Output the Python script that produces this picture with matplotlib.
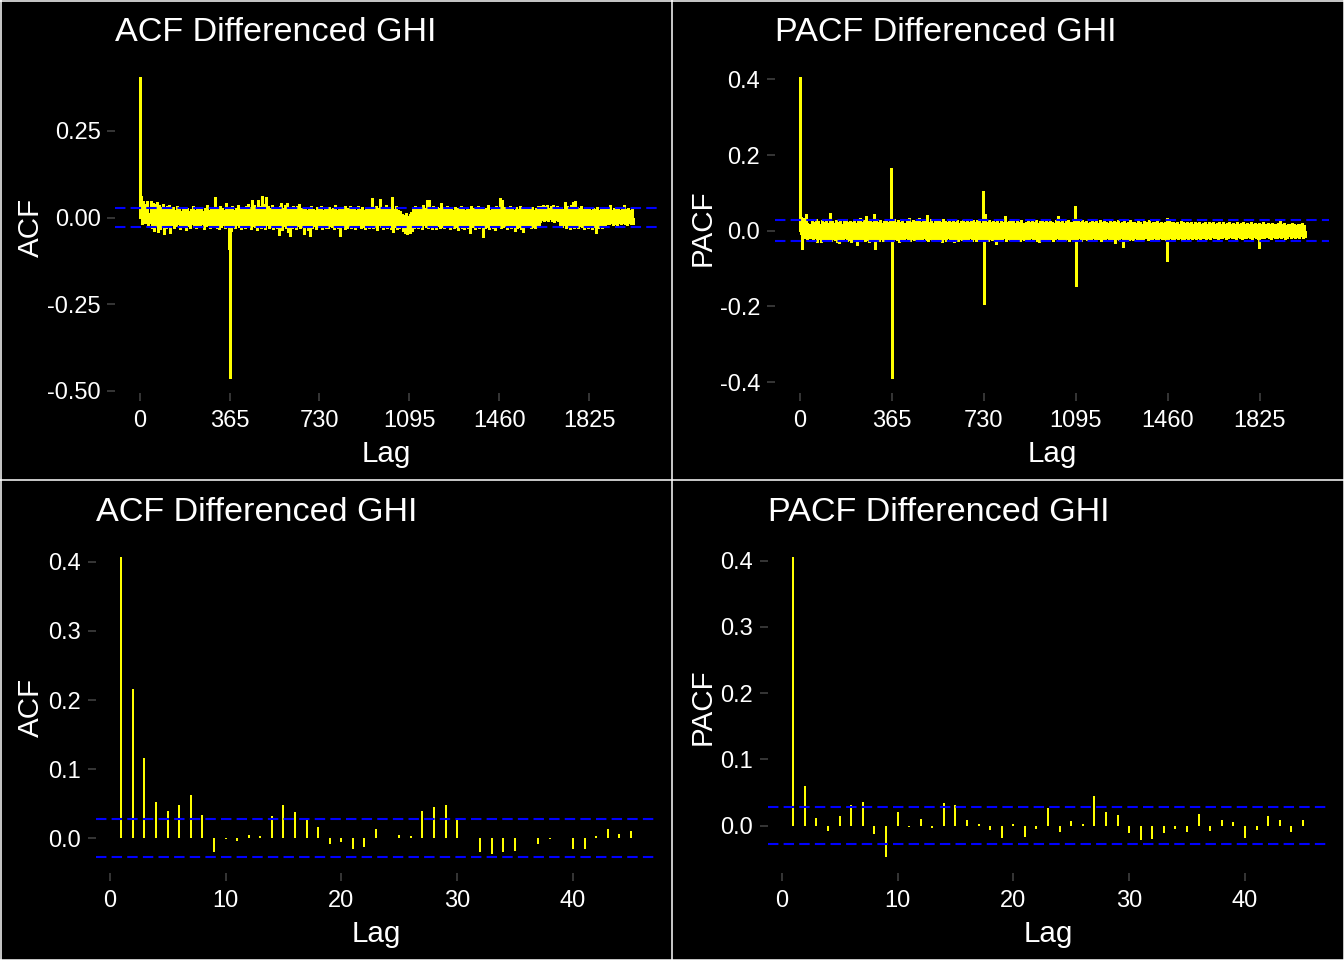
import numpy as np
import matplotlib
matplotlib.use('Agg')
import matplotlib.pyplot as plt
from matplotlib.lines import Line2D
from matplotlib.ticker import FormatStrFormatter

plt.rcParams['font.family'] = ['Liberation Sans', 'DejaVu Sans']
plt.rcParams['axes.unicode_minus'] = False

# ---- data ----
# lags 1..45 (bottom panels, also the start of the top panels)
short_lags = np.arange(1, 46)
acf_short = [0.407, 0.216, 0.116, 0.053, 0.039, 0.049, 0.063, 0.034, -0.019, -0.001,
             -0.004, 0.005, 0.004, 0.033, 0.049, 0.038, 0.027, 0.016, -0.008, -0.005,
             -0.015, -0.012, 0.014, 0.001, 0.005, 0.004, 0.039, 0.046, 0.048, 0.029,
             0.001, -0.019, -0.023, -0.019, -0.018, 0.000, -0.008, -0.001, 0.001, -0.015,
             -0.015, 0.003, 0.014, 0.006, 0.010]
pacf_short = [0.406, 0.060, 0.012, -0.008, 0.015, 0.031, 0.036, -0.013, -0.048, 0.021,
              -0.002, 0.010, -0.003, 0.034, 0.031, 0.008, 0.003, -0.007, -0.018, 0.003,
              -0.017, -0.005, 0.027, -0.010, 0.007, 0.003, 0.045, 0.020, 0.016, -0.011,
              -0.022, -0.020, -0.011, -0.005, -0.009, 0.018, -0.008, 0.009, 0.006, -0.018,
              -0.006, 0.014, 0.009, -0.010, 0.009]

# long range (top panels), estimated every 8 lags:
# upper value at the lag, lower value 4 lags later (thousandths)
max_lag = 2000
long_lags = np.arange(48, 2001, 8)
acf_hi_milli = """
48 42 38 45 35 30 40 28 33 36  25 30 22 34 27 19 31 24 28 20
26 33 21 29 24 31 18 27 35 22  28 25 60 30 24 33 27 21 42 30
26 34 23 29 36 25 31 28 33 38  30 52 35 29 50 33 62 40 60 34
29 36 27 31 25 33 42 28 35 42  30 26 34 29 32 40 27 24 31 22
28 33 25 21 30 27 34 23 29 26  31 24 28 35 22 27 30 25 33 20
27 32 24 29 21 34 26 30 23 28  31 25 55 29 33 27 53 30 24 36
28 31 58 26 33 22 18 10 6 12   4 9 15 27 32 24 30 26 35 29
52 50 28 33 25 31 27 42 30 24  33 26 29 22 31 27 24 34 28 21
30 25 32 27 23 29 33 26 31 24  28 35 22 30 26 33 29 55 50 31
27 24 32 28 21 30 26 33 25 29  31 27 24 30 22 28 33 34 30 36
32 35 29 33 37 31 34 27 30 25  45 32 28 36 45 48 30 27 33 24
29 26 31 23 28 25 30 22 27 31  24 28 26 35 22 27 25 29 23 26
37 24 28 21 26
"""
acf_lo_milli = """
-30 -38 -25 -42 -33 -28 -47 -31 -26 -46  -22 -30 -25 -19 -33 -27 -21 -35 -24 -29
-18 -26 -31 -23 -28 -20 -34 -25 -22 -30  -27 -24 -19 -29 -33 -26 -22 -30 -28 -35
-40 -26 -31 -22 -28 -34 -24 -29 -21 -27  -32 -25 -28 -36 -23 -30 -26 -33 -22 -29
-27 -34 -24 -31 -49 -28 -35 -25 -30 -42  -53 -29 -26 -33 -24 -31 -28 -48 -27 -35
-52 -30 -25 -32 -27 -23 -34 -26 -29 -31  -24 -28 -33 -22 -30 -53 -27 -25 -32 -29
-23 -31 -26 -34 -28 -22 -30 -27 -33 -25  -29 -24 -31 -27 -35 -22 -28 -33 -26 -30
-25 -32 -42 -28 -34 -30 -27 -40 -45 -47  -43 -46 -38 -29 -24 -31 -27 -33 -22 -28
-30 -25 -32 -27 -34 -23 -29 -26 -31 -24  -28 -33 -22 -30 -27 -35 -25 -29 -32 -26
-30 -44 -27 -24 -33 -28 -31 -25 -57 -29  -26 -32 -24 -30 -36 -27 -22 -31 -28 -25
-33 -26 -29 -24 -40 -30 -27 -32 -41 -25  -28 -23 -30 -26 -31 -22 -27 -12 -8 -10
-6 -11 -5 -9 -14 -7 -10 -25 -28 -22      -30 -26 -33 -24 -29 -27 -31 -23 -28 -32
-26 -30 -24 -33 -27 -44 -29 -25 -31 -23  -22 -18 -20 -16 -21 -19 -23 -17 -20 -15
-19 -22 -17 -20 -18
"""
pacf_hi_milli = """
28 22 30 25 19 27 24 31 21 47  26 20 29 23 27 18 25 30 22 26
24 29 21 27 33 23 28 40 25 30  22 45 27 24 29 20 26 31 23 28
25 30 22 27 24 32 21 26 34 23  29 25 31 33 22 28 26 42 24 30
21 27 25 29 23 31 26 22 28 24  30 23 27 21 26 29 24 28 22 25
27 23 29 25 21 26 45 24 28 22  26 23 29 21 27 24 38 22 26 25
28 21 25 23 27 20 24 29 22 26  24 28 21 25 30 23 27 22 26 24
21 27 40 23 26 20 25 28 22 24  27 21 25 23 29 22 26 20 24 27
23 25 21 28 22 26 24 20 27 23  25 22 28 21 24 26 20 23 27 22
24 21 26 23 19 25 22 27 20 24  22 26 21 24 20 23 34 25 22 24
21 23 19 25 22 20 24 21 23 19  22 20 24 18 21 23 19 22 20 24
18 21 23 19 22 17 20 22 18 21  19 22 17 20 23 18 21 19 22 17
20 18 21 19 22 17 20 18 21 19  17 20 31 18 21 16 19 17 20 18
16 19 17 20 15
"""
pacf_lo_milli = """
-26 -20 -29 -23 -31 -25 -22 -28 -24 -27  -21 -25 -30 -33 -23 -27 -20 -26 -24 -29
-22 -25 -37 -23 -28 -21 -26 -24 -29 -22  -25 -47 -23 -27 -21 -26 -24 -28 -22 -25
-27 -21 -25 -29 -23 -26 -20 -24 -28 -22  -25 -21 -27 -23 -26 -20 -24 -28 -22 -25
-23 -27 -21 -25 -29 -22 -26 -20 -24 -27  -31 -23 -26 -21 -25 -28 -22 -24 -20 -26
-23 -27 -21 -25 -22 -26 -24 -28 -21 -25  -23 -34 -22 -26 -24 -20 -27 -23 -25 -21
-26 -22 -24 -28 -21 -25 -23 -27 -20 -24  -22 -26 -31 -23 -25 -21 -27 -24 -22 -26
-23 -20 -25 -22 -27 -24 -21 -26 -23 -25  -22 -24 -20 -26 -23 -21 -25 -22 -24 -20
-25 -23 -21 -26 -22 -24 -20 -25 -23 -21  -33 -22 -24 -20 -42 -23 -21 -25 -22 -24
-20 -23 -21 -25 -22 -19 -24 -21 -23 -20  -22 -24 -20 -23 -21 -25 -22 -19 -23 -21
-20 -22 -18 -24 -21 -19 -23 -20 -22 -18  -21 -19 -23 -20 -18 -22 -19 -21 -17 -20
-19 -22 -18 -20 -17 -21 -19 -16 -20 -18  -21 -17 -19 -22 -18 -20 -16 -19 -21 -17
-19 -22 -19 -18 -20 -17 -19 -21 -16 -18  -20 -17 -19 -16 -21 -18 -15 -19 -17 -20
-16 -18 -15 -19 -17
"""
# isolated seasonal spikes
acf_spike_lags = [363, 364, 365, 366]
acf_spike_vals = [-0.045, -0.090, -0.463, -0.085]
pacf_spike_lags = [364, 365, 366, 729, 730, 731, 1094, 1095, 1457, 1822]
pacf_spike_vals = [0.167, -0.389, -0.139, 0.106, -0.193, -0.045, 0.064, -0.146, -0.081, -0.046]

ci = 0.0276  # 1.96 / sqrt(n)


def parse(s):
    return np.array(s.split(), dtype=float) / 1000.0


def series(short, hi, lo, sp_lags, sp_vals):
    hi, lo = parse(hi), parse(lo)
    n = min(len(hi), len(lo), len(long_lags))
    lags = np.concatenate([short_lags, long_lags[:n], long_lags[:n] + 4, sp_lags])
    vals = np.concatenate([short, hi[:n], lo[:n], sp_vals])
    return lags, vals


W, H = 1344, 960
fig = plt.figure(figsize=(W / 100, H / 100), dpi=100, facecolor='black')


def panel(box):
    l, t, r, b = box
    ax = fig.add_axes([l / W, 1 - b / H, (r - l) / W, (b - t) / H])
    ax.set_facecolor('black')
    for s in ax.spines.values():
        s.set_visible(False)
    return ax


def draw(ax, lags, vals, x_hi, title, ylab, box, ox, oy, yticks, yfmt, xticks, bar_lw, aa):
    l, t, r, b = box
    ax.vlines(lags, 0, vals, color='#FFFF00', lw=bar_lw, antialiased=aa)
    ax.axhline(ci, color='#0000FF', lw=1.5, ls=(0, (5, 2.5)))
    ax.axhline(-ci, color='#0000FF', lw=1.5, ls=(0, (5, 2.5)))
    lo = min(np.min(vals), -ci)
    hi = max(np.max(vals), ci)
    pad = 0.05 * (hi - lo)
    ax.set_ylim(lo - pad, hi + pad)
    xpad = 0.05 * (x_hi - 1)
    ax.set_xlim(1 - xpad, x_hi + xpad)
    ax.set_yticks(yticks)
    ax.yaxis.set_major_formatter(FormatStrFormatter(yfmt))
    ax.set_xticks(xticks)
    ax.tick_params(colors='#444444', labelcolor='white', labelsize=17, length=5.8, width=1.1)
    ax.tick_params(axis='x', pad=6.5)
    ax.tick_params(axis='y', pad=4.6)
    ax.set_title(title, loc='left', pad=15, fontsize=24.6, color='white')
    ax.set_xlabel('Lag', fontsize=21.3, color='white')
    ax.set_ylabel(ylab, fontsize=21.3, color='white')
    ax.xaxis.set_label_coords(0.5, (b - (oy + 440.0)) / (b - t))
    ax.yaxis.set_label_coords((ox + 44.8 - l) / (r - l), 0.5)


boxes = {
    'tl': (115.3, 61.5, 656.7, 393.0),
    'tr': (774.7, 62.0, 1329.0, 393.0),
    'bl': (95.8, 542.0, 656.3, 872.5),
    'br': (767.8, 541.7, 1328.3, 872.5),
}
year_ticks = [0, 365, 730, 1095, 1460, 1825]

lags, vals = series(acf_short, acf_hi_milli, acf_lo_milli, acf_spike_lags, acf_spike_vals)
ax = panel(boxes['tl'])
draw(ax, lags, vals, max_lag, 'ACF Differenced GHI', 'ACF', boxes['tl'], 0, 0,
     [-0.5, -0.25, 0.0, 0.25], '%.2f', year_ticks, 1.0, False)

lags, vals = series(pacf_short, pacf_hi_milli, pacf_lo_milli, pacf_spike_lags, pacf_spike_vals)
ax = panel(boxes['tr'])
draw(ax, lags, vals, max_lag, 'PACF Differenced GHI', 'PACF', boxes['tr'], 672, 0,
     [-0.4, -0.2, 0.0, 0.2, 0.4], '%.1f', year_ticks, 1.0, False)

ax = panel(boxes['bl'])
draw(ax, short_lags, np.array(acf_short), 45, 'ACF Differenced GHI', 'ACF', boxes['bl'], 0, 480,
     [0.0, 0.1, 0.2, 0.3, 0.4], '%.1f', [0, 10, 20, 30, 40], 1.44, True)

ax = panel(boxes['br'])
draw(ax, short_lags, np.array(pacf_short), 45, 'PACF Differenced GHI', 'PACF', boxes['br'], 672, 480,
     [0.0, 0.1, 0.2, 0.3, 0.4], '%.1f', [0, 10, 20, 30, 40], 1.44, True)

# white frames around each plot
for x in [0.5 / W, 0.5, 1 - 0.5 / W]:
    fig.add_artist(Line2D([x, x], [0, 1], color='white', lw=1.1, transform=fig.transFigure))
for y in [0.5 / H, 1 - 479.5 / H, 1 - 0.5 / H]:
    fig.add_artist(Line2D([0, 1], [y, y], color='white', lw=1.1, transform=fig.transFigure))

fig.savefig('out.png', dpi=100, facecolor='black')
